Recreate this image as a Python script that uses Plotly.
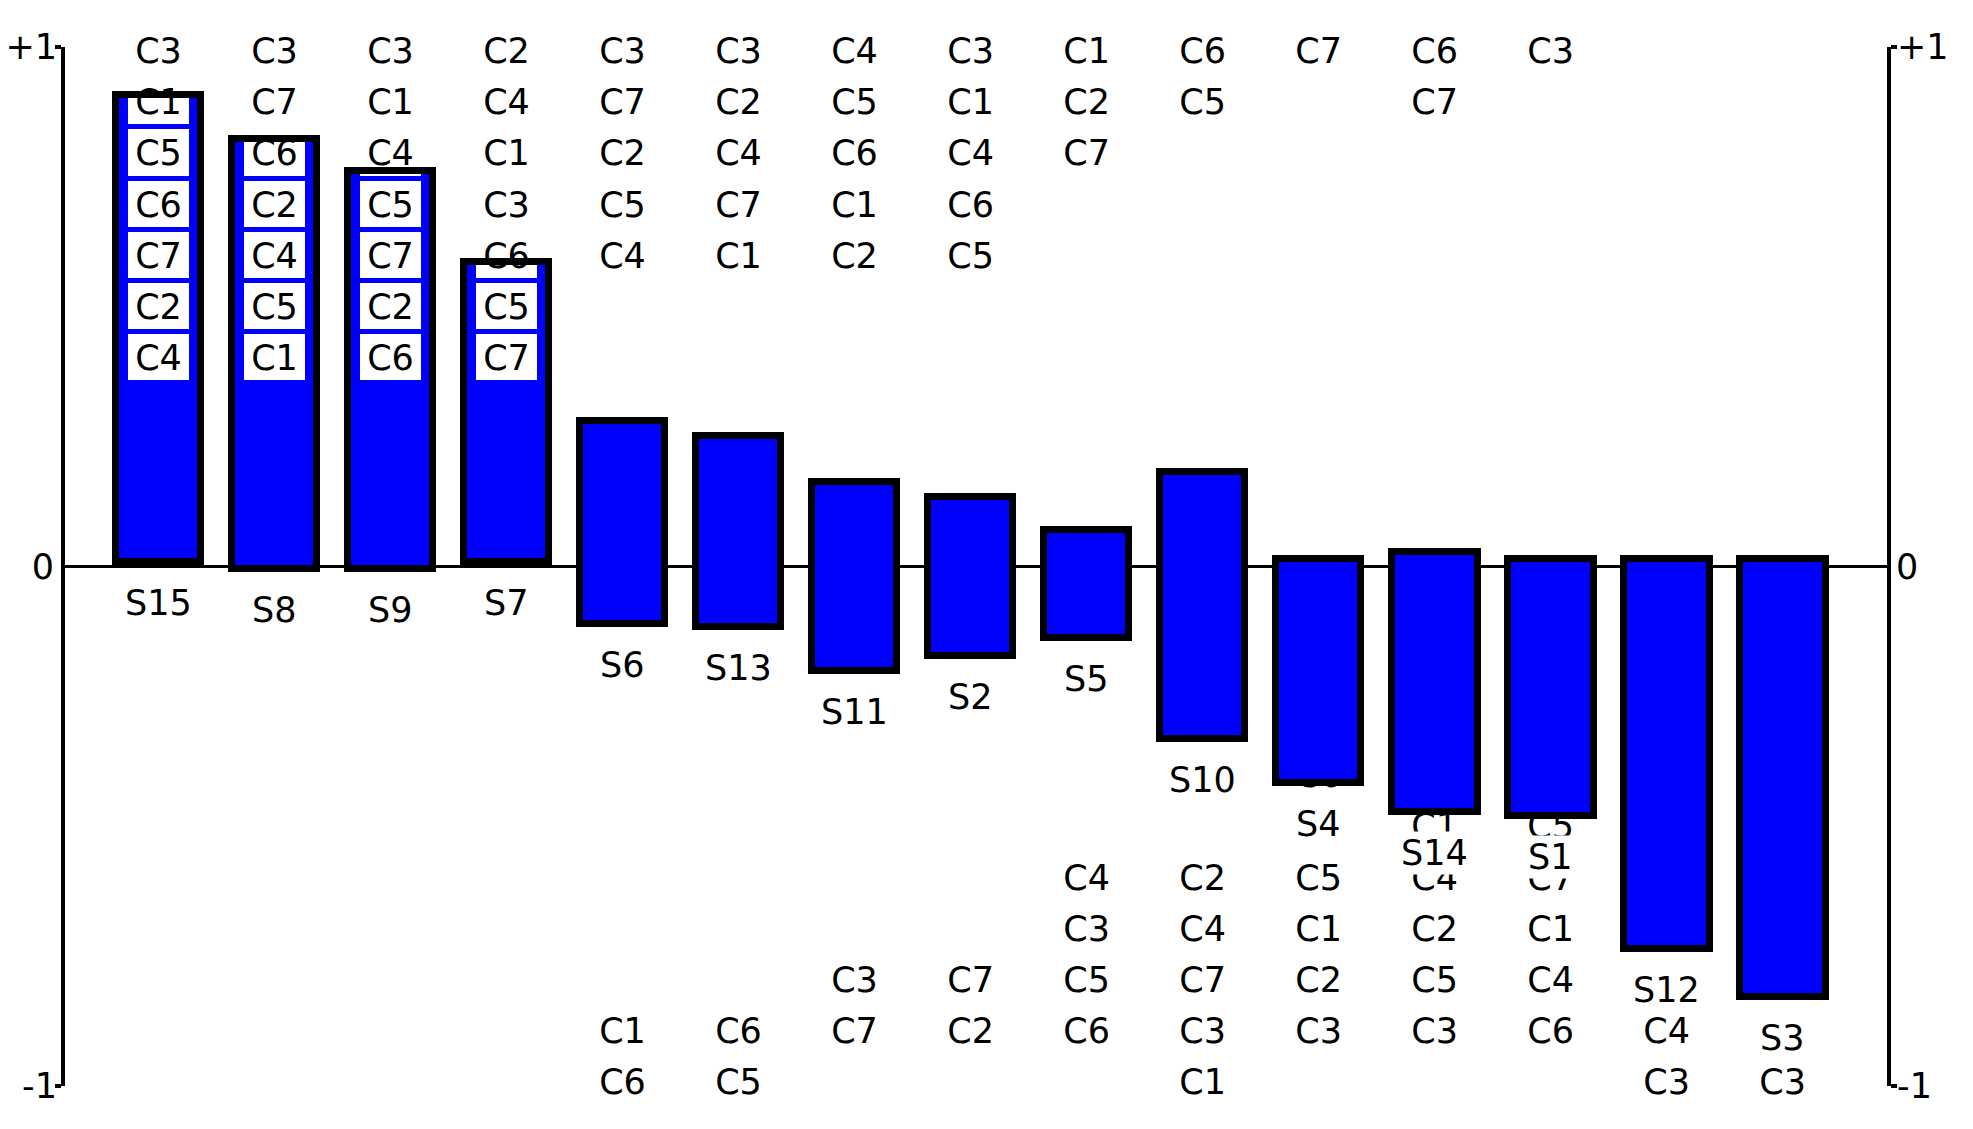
import plotly.graph_objects as go

# ---------------- data ----------------
samples = ["S15", "S8", "S9", "S7", "S6", "S13", "S11", "S2", "S5", "S10",
           "S4", "S14", "S1", "S12", "S3"]
bar_high = [0.907, 0.823, 0.761, 0.586, 0.280, 0.252, 0.162, 0.133, 0.071, 0.182,
            0.014, 0.028, 0.014, 0.014, 0.014]
bar_low = [0.008, -0.005, -0.005, 0.008, -0.110, -0.117, -0.201, -0.172, -0.137, -0.332,
           -0.416, -0.473, -0.480, -0.737, -0.828]

# labels stacked downward from +1 (first item = top row)
top_labels = [
    ["C3", "C1", "C5", "C6", "C7", "C2", "C4"],  # S15
    ["C3", "C7", "C6", "C2", "C4", "C5", "C1"],  # S8
    ["C3", "C1", "C4", "C5", "C7", "C2", "C6"],  # S9
    ["C2", "C4", "C1", "C3", "C6", "C5", "C7"],  # S7
    ["C3", "C7", "C2", "C5", "C4"],              # S6
    ["C3", "C2", "C4", "C7", "C1"],              # S13
    ["C4", "C5", "C6", "C1", "C2"],              # S11
    ["C3", "C1", "C4", "C6", "C5"],              # S2
    ["C1", "C2", "C7"],                          # S5
    ["C6", "C5"],                                # S10
    ["C7"],                                      # S4
    ["C6", "C7"],                                # S14
    ["C3"],                                      # S1
    [],                                          # S12
    [],                                          # S3
]
# labels stacked upward from -1 (first item = bottom row, "" = empty slot)
bottom_labels = [
    [], [], [], [],                              # S15, S8, S9, S7
    ["C6", "C1"],                                # S6
    ["C5", "C6"],                                # S13
    ["", "C7", "C3"],                            # S11
    ["", "C2", "C7"],                            # S2
    ["", "C6", "C5", "C3", "C4"],                # S5
    ["C1", "C3", "C7", "C4", "C2"],              # S10
    ["", "C3", "C2", "C1", "C5", "C4", "C6"],    # S4
    ["", "C3", "C5", "C2", "C4", "C1"],          # S14
    ["", "C6", "C4", "C1", "C7", "C5"],          # S1
    ["C3", "C4"],                                # S12
    ["C3"],                                      # S3
]
tick_vals_ends = [-1, 1]
tick_text_ends = ["-1", "+1"]
tick_vals_mid = [0]
tick_text_mid = ["0"]

# ---------------- style ----------------
FONT = dict(family="DejaVu Sans", size=35, color="black")
BLUE = "#0000FF"
ROW_STEP = 0.0985
TOP_ROW = 0.986
BOTTOM_ROW = -0.999
BOX_W = 0.526
BOX_H = 0.089
BOX_SHIFT = 0.008
BAR_W = 0.74
S_OFFSET = 0.079
XRANGE = [-0.806, 14.90]

tx, ty, tt = [], [], []
for s, labs in zip(samples, top_labels):
    for k, lab in enumerate(labs):
        tx.append(s)
        ty.append(TOP_ROW - k * ROW_STEP)
        tt.append(lab)

bx, by, bt = [], [], []
for s, labs in zip(samples, bottom_labels):
    for k, lab in enumerate(labs):
        if lab:
            bx.append(s)
            by.append(BOTTOM_ROW + k * ROW_STEP)
            bt.append(lab)

heights = [h - l for h, l in zip(bar_high, bar_low)]

fig = go.Figure()
# bottom C labels (drawn first, bars cover them)
fig.add_trace(go.Scatter(x=bx, y=by, text=bt, mode="text", textfont=FONT,
                         textposition="middle center", hoverinfo="skip", cliponaxis=False,
                         xaxis="x", yaxis="y", showlegend=False))
# bars (fill)
fig.add_trace(go.Bar(x=samples, y=heights, base=bar_low, width=BAR_W,
                     marker=dict(color=BLUE, line=dict(color="black", width=7)),
                     hoverinfo="skip", xaxis="x2", yaxis="y2", showlegend=False))
# white label boxes + top labels
fig.add_trace(go.Bar(x=tx, y=[BOX_H] * len(ty),
                     base=[v + BOX_SHIFT - BOX_H / 2 for v in ty],
                     width=BOX_W, marker=dict(color="white", line=dict(width=0)),
                     hoverinfo="skip", xaxis="x3", yaxis="y3", showlegend=False))
fig.add_trace(go.Scatter(x=tx, y=ty, text=tt, mode="text", textfont=FONT,
                         textposition="middle center", hoverinfo="skip", cliponaxis=False,
                         xaxis="x3", yaxis="y3", showlegend=False))
# bar outlines on top
fig.add_trace(go.Bar(x=samples, y=heights, base=bar_low, width=BAR_W,
                     marker=dict(color="rgba(0,0,0,0)", line=dict(color="black", width=7)),
                     hoverinfo="skip", xaxis="x4", yaxis="y4", showlegend=False))

for s, low in zip(samples, bar_low):
    fig.add_annotation(x=s, y=low - S_OFFSET, xref="x", yref="y", text=s,
                       showarrow=False, font=FONT, bgcolor="white",
                       borderpad=1, xanchor="center", yanchor="middle")

xax = dict(type="category", categoryorder="array", categoryarray=samples,
           range=XRANGE, showline=False, showticklabels=False, showgrid=False,
           zeroline=False, ticks="", fixedrange=True, automargin=False)
yline = dict(range=[-1, 1], showgrid=False, fixedrange=True, tickfont=FONT,
             automargin=False)

fig.update_layout(
    width=1973, height=1129,
    margin=dict(l=65, r=86, t=47, b=43, pad=0, autoexpand=False),
    paper_bgcolor="white", plot_bgcolor="white",
    barmode="overlay", bargap=0,
    xaxis=dict(**xax, anchor="y"),
    xaxis2=dict(**xax, anchor="y2", overlaying="x"),
    xaxis3=dict(**xax, anchor="y3", overlaying="x"),
    xaxis4=dict(**xax, anchor="y4", overlaying="x"),
    yaxis=dict(**yline, anchor="x", side="left", showline=True, linecolor="black",
               linewidth=4, ticks="outside", ticklen=6, tickwidth=4, tickcolor="black",
               tickvals=tick_vals_ends, ticktext=tick_text_ends, ticklabelstandoff=-9,
               zeroline=True, zerolinecolor="black", zerolinewidth=3),
    yaxis2=dict(**yline, anchor="x2", overlaying="y", side="left", showline=False,
                ticks="", tickvals=tick_vals_mid, ticktext=tick_text_mid,
                zeroline=False, ticklabelstandoff=10),
    yaxis3=dict(**yline, anchor="x3", overlaying="y", side="right", showline=True,
                linecolor="black", linewidth=4, ticks="outside", ticklen=6, tickwidth=4,
                tickcolor="black", tickvals=tick_vals_ends, ticktext=tick_text_ends,
                ticklabelstandoff=-7, zeroline=False),
    yaxis4=dict(**yline, anchor="x4", overlaying="y", side="right", showline=False,
                ticks="", tickvals=tick_vals_mid, ticktext=tick_text_mid,
                zeroline=False, ticklabelstandoff=8),
)

fig.write_html("out.html", config={"displayModeBar": False},
               post_script="document.body.style.margin='0px';")
